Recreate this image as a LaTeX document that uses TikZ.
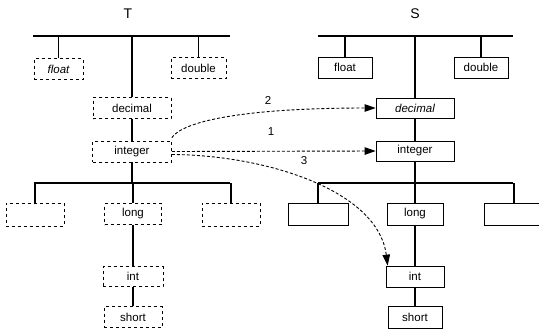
\documentclass[tikz,border=0pt]{standalone}
\usepackage{fontspec}
\setmainfont{Liberation Sans}
\usetikzlibrary{arrows.meta}

\begin{document}
\begin{tikzpicture}[x=1pt, y=-1pt,
  tbox/.style={draw, dashed, line width=0.7pt, inner sep=0pt, minimum height=21pt, font=\fontsize{11.5}{13}\selectfont},
  sbox/.style={draw, line width=0.7pt, inner sep=0pt, minimum height=21pt, font=\fontsize{11.5}{13}\selectfont},
  tree/.style={line width=1.2pt},
  move/.style={densely dashed, line width=0.9pt, -{Triangle[length=11pt, width=7.5pt]}},
  num/.style={font=\fontsize{11.5}{13}\selectfont}]

\useasboundingbox (0,0) rectangle (539,333);

% -------- T -----------
\node  (tname)  at  (128, 14) {\fontsize{14}{16}\selectfont T};
\coordinate (ttopL) at (33, 36);
\coordinate (ttopR) at (230, 36);
\coordinate (tlowL) at (34, 183);
\coordinate (tlowR) at (230, 183);

\node [tbox, minimum width=49pt] (tfloat)   at  (58.5, 69)  {\itshape float};
\node [tbox, minimum width=55pt] (tdouble)  at  (198.5, 68) {double};
\node [tbox, minimum width=78pt] (tdecimal) at  (132, 108)  {decimal};
\node [tbox, minimum width=79pt] (tinteger) at  (132, 151.5) {integer};
\node [tbox, minimum width=58pt, minimum height=23pt] (tleft)  at  (35, 214.5)  {};
\node [tbox, minimum width=57pt] (tlong)    at  (133, 214) {long};
\node [tbox, minimum width=58pt, minimum height=23pt] (tright) at  (231, 214.5) {};
\node [tbox, minimum width=60pt, minimum height=20pt] (tint)   at  (133, 276.5) {int};
\node [tbox, minimum width=58pt] (tshort)   at  (133, 317)  {short};

\draw [tree] (ttopL) -- (ttopR);
\draw [tree] (tfloat) -- (tfloat |- ttopL);
\draw [tree] (tdouble) -- (tdouble |- ttopL);
\draw [tree] (tdecimal) -- (tdecimal |- ttopL);
\draw [tree] (tdecimal) -- (tinteger);
\draw [tree] (tinteger) -- (tinteger |- tlowL);
\draw [tree] (tlowL) -- (tlowR);
\draw [tree] (tleft) -- (tleft |- tlowL);
\draw [tree] (tlong) -- (tlong |- tlowL);
\draw [tree] (tright) -- (tright |- tlowL);
\draw [tree] (tlong) -- (tint);
\draw [tree] (tint) -- (tshort);

% -------- S -----------
\node  (sname)  at  (415, 14) {\fontsize{14}{16}\selectfont S};
\coordinate (stopL) at (318, 36);
\coordinate (stopR) at (513, 36);
\coordinate (slowL) at (318, 183);
\coordinate (slowR) at (513, 183);

\node [sbox, minimum width=54pt] (sfloat)   at  (345, 67.5) {float};
\node [sbox, minimum width=54pt] (sdouble)  at  (481, 67.5) {double};
\node [sbox, minimum width=78pt, minimum height=20pt] (sdecimal) at  (415, 108) {\itshape decimal};
\node [sbox, minimum width=78pt, minimum height=20pt] (sinteger) at  (415, 151) {integer};
\node [sbox, minimum width=60pt, minimum height=22pt] (sleft)  at  (318, 214) {};
\node [sbox, minimum width=56pt, minimum height=22pt] (slong)    at  (415, 214) {long};
\node [sbox, minimum width=60pt, minimum height=22pt] (sright) at  (514, 214) {};
\node [sbox, minimum width=58pt] (sint)     at  (415, 276.5) {int};
\node [sbox, minimum width=54pt, minimum height=22pt] (sshort)   at  (415, 317) {short};

\draw [tree] (stopL) -- (stopR);
\draw [tree] (sfloat) -- (sfloat |- stopL);
\draw [tree] (sdouble) -- (sdouble |- stopL);
\draw [tree] (sdecimal) -- (sdecimal |- stopL);
\draw [tree] (sdecimal) -- (sinteger);
\draw [tree] (sinteger) -- (sinteger |- slowL);
\draw [tree] (slowL) -- (slowR);
\draw [tree] (sleft) -- (sleft |- slowL);
\draw [tree] (slong) -- (slong |- slowL);
\draw [tree] (sright) -- (sright |- slowL);
\draw [tree] (slong) -- (sint);
\draw [tree] (sint) -- (sshort);

% -------- moves -----------
\draw [move] ([yshift=3pt]tinteger.north east) .. controls (182,122) and (240,108) .. (sdecimal.west);
\draw [move] (tinteger.east) -- (sinteger.west);
\draw [move] ([yshift=-3pt]tinteger.east) .. controls (265,155) and (378,190) .. ([xshift=2pt]sint.north west);

\node [num] (two)   at  (268, 100) {2};
\node [num] (one)   at  (271, 132) {1};
\node [num] (three) at  (304, 161) {3};
\end{tikzpicture}
\end{document}
